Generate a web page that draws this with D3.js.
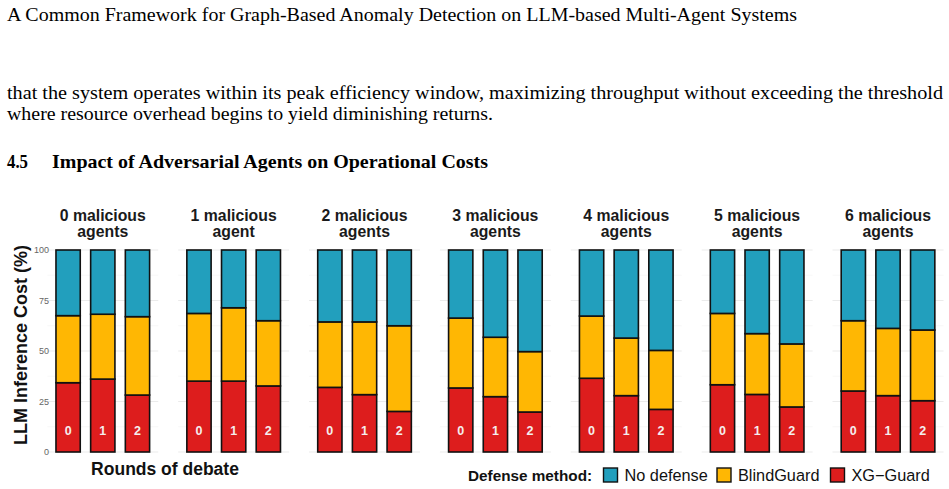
<!doctype html>
<html>
<head>
<meta charset="utf-8">
<script src="https://d3js.org/d3.v7.min.js"></script>
<style>
  body { margin: 0; background: #fff; }
  svg { display: block; }
</style>
</head>
<body>
<div id="chart"></div>
<script>
// panels = number of malicious agents, bars = rounds of debate
var panels = ["0 malicious\nagents", "1 malicious\nagent", "2 malicious\nagents", "3 malicious\nagents",
              "4 malicious\nagents", "5 malicious\nagents", "6 malicious\nagents"];
var rounds = ["0", "1", "2"];
var methods = ["XG\u2212Guard", "BlindGuard", "No defense"];   // bottom -> top
var colors = ["#dd1d1d", "#ffb703", "#229fbd"];
var yTicks = [0, 25, 50, 75, 100];

// share of LLM inference cost (%), one row per panel, one value per round
var xgGuard = [
  [34.3, 36.1, 28.2], [35.1, 35.1, 32.7], [32.0, 28.4, 20.1], [31.7, 27.4, 19.8],
  [36.5, 27.9, 21.1], [33.3, 28.5, 22.3], [30.2, 27.9, 25.4]
];
var blindGuard = [
  [33.2, 32.1, 38.8], [33.5, 36.3, 32.3], [32.4, 36.0, 42.4], [34.6, 29.4, 29.9],
  [30.8, 28.5, 29.2], [35.3, 30.1, 31.2], [34.8, 33.3, 35.0]
];
var noDefense = [
  [32.5, 31.8, 33.0], [31.4, 28.6, 35.0], [35.6, 35.6, 37.5], [33.7, 43.2, 50.3],
  [32.7, 43.6, 49.7], [31.4, 41.4, 46.5], [35.0, 38.8, 39.6]
];

var w = 949, h = 489;
var svg = d3.select("#chart").append("svg").attr("width", w).attr("height", h);

// page text above the figure
var serif = "'Liberation Serif', 'Times New Roman', serif";
function pageText(str, x, y, len, bold) {
  svg.append("text").attr("x", x).attr("y", y)
    .attr("textLength", len).attr("lengthAdjust", "spacingAndGlyphs")
    .style("font-family", serif).style("font-size", "19.5px")
    .style("font-weight", bold ? "bold" : "normal").style("fill", "#000")
    .text(str);
}
pageText("A Common Framework for Graph-Based Anomaly Detection on LLM-based Multi-Agent Systems", 7, 20.5, 790);
pageText("that the system operates within its peak efficiency window, maximizing throughput without exceeding the threshold", 7, 98.5, 936);
pageText("where resource overhead begins to yield diminishing returns.", 7, 119.5, 486);
pageText("4.5", 7, 168, 21, true);
pageText("Impact of Adversarial Agents on Operational Costs", 52, 168, 436, true);

// chart
var sans = "'Liberation Sans', Arial, Helvetica, sans-serif";
var yScale = d3.scaleLinear().domain([0, 100]).range([452, 250]);

var panelScale = d3.scaleBand()
  .domain(d3.range(panels.length))
  .range([47.3, 943.5])
  .paddingInner(0.152)
  .paddingOuter(0);

var barScale = d3.scaleBand()
  .domain(rounds)
  .range([0, panelScale.bandwidth()])
  .paddingInner(0.3)
  .paddingOuter(0.25);

var series = [xgGuard, blindGuard, noDefense];

var panel = svg.selectAll("g.panel")
  .data(panels)
  .enter().append("g")
  .attr("class", "panel")
  .attr("transform", function (d, i) { return "translate(" + panelScale(i) + ",0)"; });

panel.each(function (d, pi) {
  var g = d3.select(this);

  // grid lines (major and minor)
  var gridVals = d3.range(0, 100.1, 12.5);
  g.selectAll("line.grid").data(gridVals).enter().append("line")
    .attr("x1", 0).attr("x2", panelScale.bandwidth())
    .attr("y1", function (v) { return yScale(v); })
    .attr("y2", function (v) { return yScale(v); })
    .attr("stroke", function (v) { return v % 25 === 0 ? "#ebebeb" : "#f4f4f4"; })
    .attr("stroke-width", function (v) { return v % 25 === 0 ? 1 : 0.6; });

  // stacked bars
  var rows = rounds.map(function (r, ri) {
    var o = { round: r };
    methods.forEach(function (m, mi) { o[m] = series[mi][pi][ri]; });
    return o;
  });
  var stacked = d3.stack().keys(methods)(rows);

  g.selectAll("g.layer").data(stacked).enter().append("g")
    .attr("class", "layer")
    .attr("fill", function (s, si) { return colors[si]; })
    .selectAll("rect").data(function (s) { return s; }).enter().append("rect")
    .attr("x", function (p) { return barScale(p.data.round); })
    .attr("width", barScale.bandwidth())
    .attr("y", function (p) { return yScale(p[1]); })
    .attr("height", function (p) { return yScale(p[0]) - yScale(p[1]); })
    .attr("stroke", "#111")
    .attr("stroke-width", 1.6);

  // round labels inside the bottom segment
  g.selectAll("text.round").data(rounds).enter().append("text")
    .attr("x", function (r) { return barScale(r) + barScale.bandwidth() / 2; })
    .attr("y", yScale(8.4))
    .attr("text-anchor", "middle")
    .style("font-family", sans).style("font-size", "12.5px").style("font-weight", "bold")
    .style("fill", "#f5eeee")
    .text(function (r) { return r; });

  // panel title
  var lines = d.split("\n");
  g.append("text")
    .attr("text-anchor", "middle")
    .style("font-family", sans).style("font-size", "15.8px").style("font-weight", "bold")
    .style("fill", "#1a1a1a")
    .selectAll("tspan").data(lines).enter().append("tspan")
    .attr("x", panelScale.bandwidth() / 2)
    .attr("y", function (l, li) { return 221 + li * 16; })
    .text(function (l) { return l; });
});

// y axis (tick labels only)
var yAxis = svg.append("g")
  .attr("transform", "translate(51,0)")
  .call(d3.axisLeft(yScale).tickValues(yTicks).tickSize(0).tickPadding(2));
yAxis.select(".domain").remove();
yAxis.selectAll("text")
  .style("font-family", sans).style("font-size", "9px").style("fill", "#666");

// axis titles
svg.append("text")
  .attr("text-anchor", "middle")
  .attr("transform", "translate(26.5,345)rotate(-90)")
  .style("font-family", sans).style("font-size", "18px").style("font-weight", "bold")
  .style("fill", "#111")
  .text("LLM Inference Cost (%)");

svg.append("text")
  .attr("x", 165).attr("y", 475)
  .attr("text-anchor", "middle")
  .style("font-family", sans).style("font-size", "17.5px").style("font-weight", "bold")
  .style("fill", "#111")
  .text("Rounds of debate");

// legend
var legend = svg.append("g").attr("transform", "translate(0,475)");
legend.append("text")
  .attr("x", 468).attr("y", 5.5)
  .style("font-family", sans).style("font-size", "15.3px").style("font-weight", "bold")
  .style("fill", "#111")
  .text("Defense method:");

var legendOrder = [2, 1, 0];
var legendX = [603.5, 717, 830.5];
legendOrder.forEach(function (mi, k) {
  legend.append("rect")
    .attr("x", legendX[k]).attr("y", -7).attr("width", 14).attr("height", 14)
    .attr("fill", colors[mi]).attr("stroke", "#111").attr("stroke-width", 1.4);
  legend.append("text")
    .attr("x", legendX[k] + 21).attr("y", 5.5)
    .style("font-family", sans).style("font-size", "16.3px")
    .style("fill", "#111")
    .text(methods[mi]);
});
</script>
</body>
</html>
